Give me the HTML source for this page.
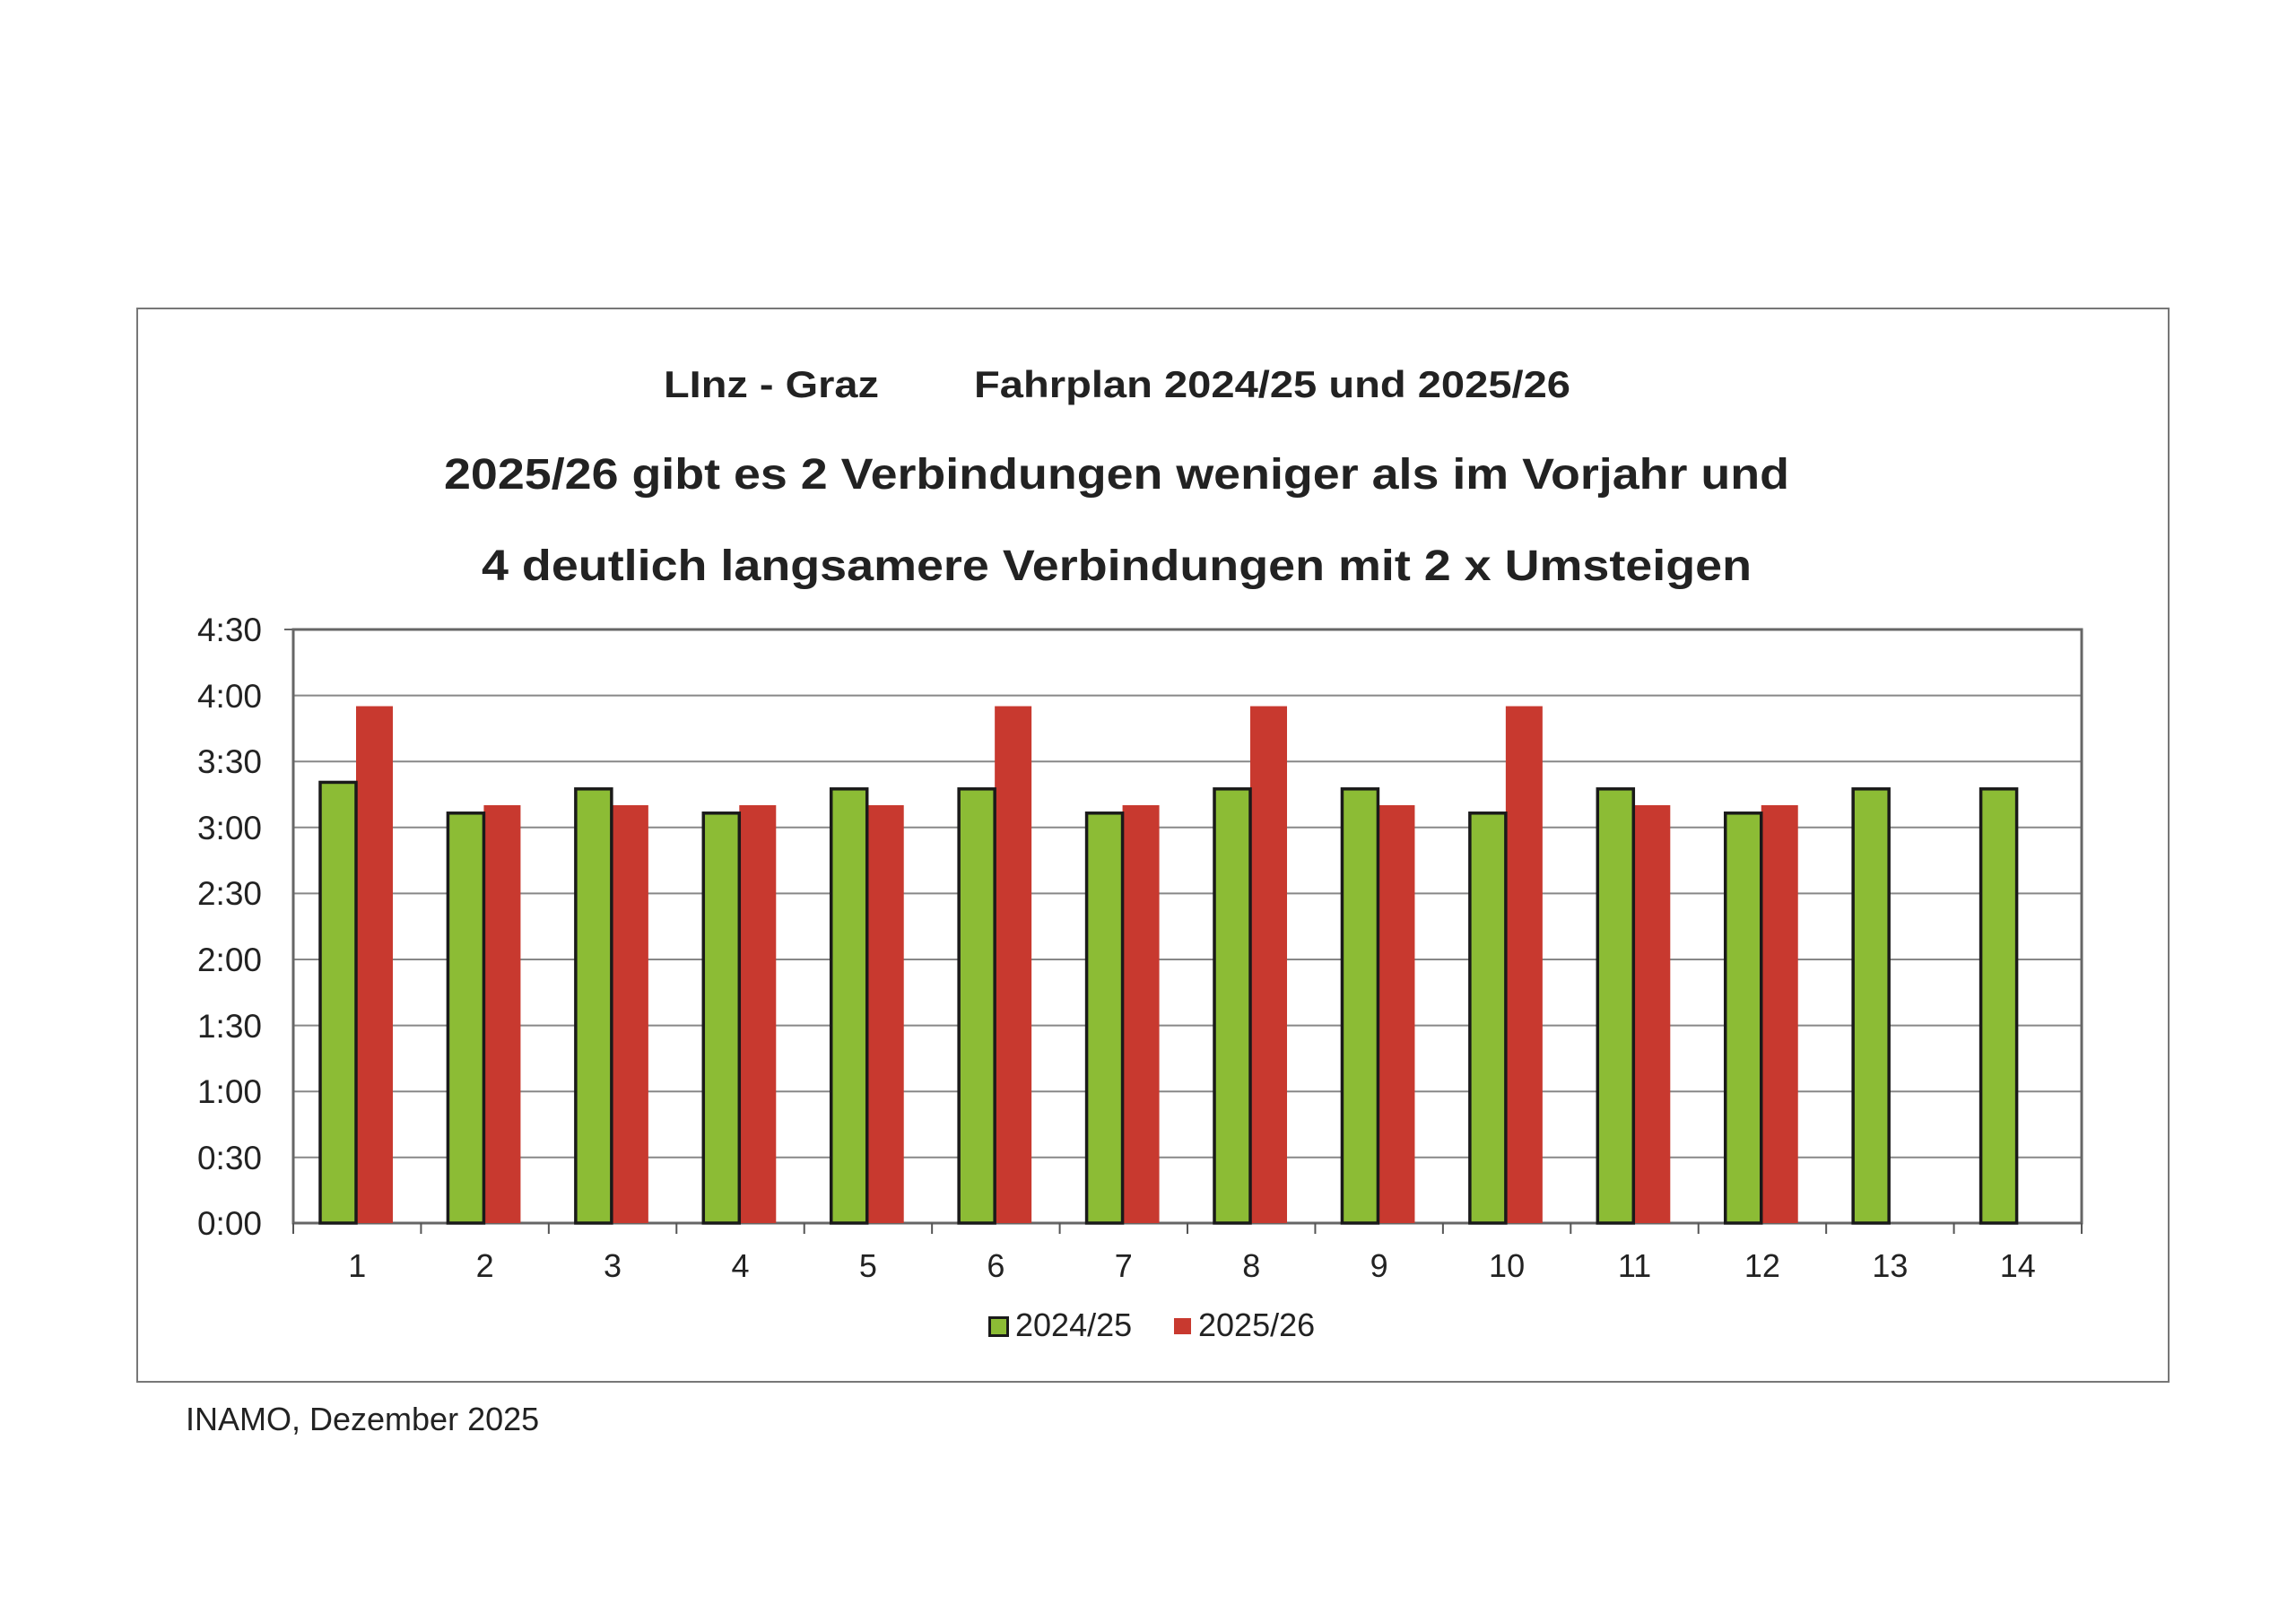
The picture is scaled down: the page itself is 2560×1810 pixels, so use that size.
<!DOCTYPE html>
<html><head><meta charset="utf-8"><style>
html,body{margin:0;padding:0;background:#fff;}
svg{display:block;}
text{font-family:"Liberation Sans",Arial,sans-serif;fill:#222;}
</style></head><body>
<svg width="2560" height="1810" viewBox="0 0 2560 1810" xmlns="http://www.w3.org/2000/svg">
<rect x="0" y="0" width="2560" height="1810" fill="#fff"/>
<rect x="153" y="344" width="2265" height="1197" fill="none" stroke="#777" stroke-width="2"/>
<g font-weight="bold">
<text x="740" y="443" font-size="42" textLength="240" lengthAdjust="spacingAndGlyphs">LInz - Graz</text>
<text x="1086" y="443" font-size="42" textLength="665" lengthAdjust="spacingAndGlyphs">Fahrplan 2024/25 und 2025/26</text>
<text x="495" y="545" font-size="48" textLength="1500" lengthAdjust="spacingAndGlyphs">2025/26 gibt es 2 Verbindungen weniger als im Vorjahr und</text>
<text x="537" y="647" font-size="48" textLength="1416" lengthAdjust="spacingAndGlyphs">4 deutlich langsamere Verbindungen mit 2 x Umsteigen</text>
</g>
<g stroke="#888" stroke-width="2">
<line x1="327" y1="775.6" x2="2321" y2="775.6"/>
<line x1="327" y1="849.2" x2="2321" y2="849.2"/>
<line x1="327" y1="922.8" x2="2321" y2="922.8"/>
<line x1="327" y1="996.4" x2="2321" y2="996.4"/>
<line x1="327" y1="1070" x2="2321" y2="1070"/>
<line x1="327" y1="1143.6" x2="2321" y2="1143.6"/>
<line x1="327" y1="1217.2" x2="2321" y2="1217.2"/>
<line x1="327" y1="1290.8" x2="2321" y2="1290.8"/>
</g>
<rect x="327" y="702" width="1994" height="662" fill="none" stroke="#666" stroke-width="3"/>
<line x1="317" y1="702" x2="327" y2="702" stroke="#666" stroke-width="2"/>
<g font-size="37" text-anchor="end">
<text x="292" y="715">4:30</text><text x="292" y="789">4:00</text><text x="292" y="862">3:30</text>
<text x="292" y="936">3:00</text><text x="292" y="1009">2:30</text><text x="292" y="1083">2:00</text>
<text x="292" y="1157">1:30</text><text x="292" y="1230">1:00</text><text x="292" y="1304">0:30</text>
<text x="292" y="1377">0:00</text>
</g>
<g id="bars"></g>
<g font-size="36" text-anchor="middle" id="xl"></g>
<g stroke="#555" stroke-width="2" id="ticks"></g>
<rect x="1103.5" y="1469.5" width="20" height="20" fill="#8cbc35" stroke="#1a1a1a" stroke-width="3"/>
<text x="1132" y="1490" font-size="36">2024/25</text>
<rect x="1309" y="1470" width="19" height="18" fill="#c8392f"/>
<text x="1336" y="1490" font-size="36">2025/26</text>
<text x="207" y="1595" font-size="36">INAMO, Dezember 2025</text>
</svg>
<script>
var g=[201,187,198,187,198,198,187,198,198,187,198,187,198,198];
var r=[235,190,190,190,190,235,190,235,190,235,190,190];
var ns="http://www.w3.org/2000/svg",S=2.453,B=1364,W=142.43,X0=327;
var bars=document.getElementById('bars'),xl=document.getElementById('xl'),tk=document.getElementById('ticks');
function el(t,a,p){var e=document.createElementNS(ns,t);for(var k in a)e.setAttribute(k,a[k]);p.appendChild(e);return e;}
for(var i=0;i<14;i++){var x=X0+i*W;
 if(i<12){var h=r[i]*S;el('rect',{x:x+70,y:B-h,width:41,height:h,fill:'#c8392f'},bars);}
 var hg=g[i]*S;el('rect',{x:x+30,y:B-hg+1.5,width:40,height:hg-1.5,fill:'#8cbc35',stroke:'#1a1a1a','stroke-width':3.5},bars);
 var t=el('text',{x:x+W/2,y:1424},xl);t.textContent=String(i+1);
}
for(var i=0;i<=14;i++){var x=X0+i*W;el('line',{x1:x,y1:1364,x2:x,y2:1376},tk);}
</script>
</body></html>
